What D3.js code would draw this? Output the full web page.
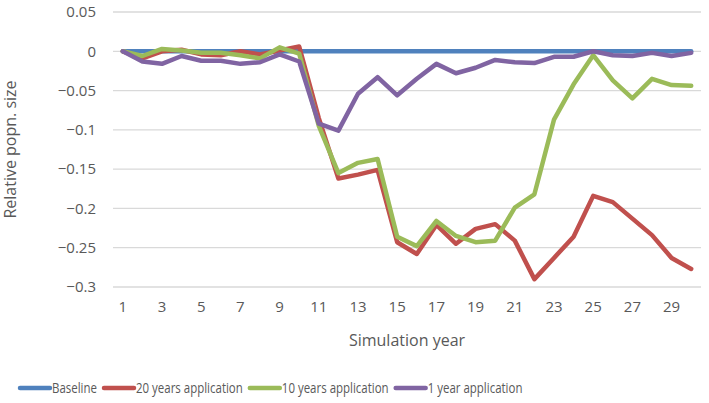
<!DOCTYPE html>
<html>
<head>
<meta charset="utf-8">
<script src="https://d3js.org/d3.v7.min.js"></script>
<style>
  body { margin: 0; background: #fff; }
  text { font-family: "Open Sans", sans-serif; fill: #595959; }
</style>
</head>
<body>
<div id="chart-area"></div>
<script>

var width = 709,
    height = 403;

var margin = {top: 12, right: 8, bottom: 116, left: 113};

// Data
var years = d3.range(1, 31);
var seriesNames = ["Baseline", "20 years application", "10 years application", "1 year application"];
var seriesColors = ["#4f81bd", "#c0504d", "#9bbb59", "#8064a2"];

var baseline = years.map(function() { return 0; });
var app20 = [0, -0.009, 0, 0.002, -0.004, -0.005, 0, -0.004, 0.001, 0.006,
             -0.085, -0.162, -0.157, -0.151, -0.243, -0.258, -0.221, -0.245, -0.226, -0.220,
             -0.241, -0.290, -0.263, -0.236, -0.184, -0.192, -0.213, -0.234, -0.263, -0.277];
var app10 = [0, -0.006, 0.003, 0.001, -0.002, -0.002, -0.005, -0.009, 0.005, -0.003,
             -0.095, -0.155, -0.142, -0.137, -0.236, -0.248, -0.216, -0.235, -0.243, -0.241,
             -0.199, -0.182, -0.087, -0.042, -0.005, -0.037, -0.060, -0.035, -0.043, -0.044];
var app1 = [0, -0.013, -0.016, -0.006, -0.012, -0.012, -0.016, -0.014, -0.004, -0.013,
            -0.092, -0.101, -0.054, -0.033, -0.056, -0.035, -0.016, -0.028, -0.021, -0.011,
            -0.014, -0.015, -0.007, -0.007, 0, -0.005, -0.006, -0.002, -0.006, -0.002];

var yTicks = [0.05, 0, -0.05, -0.1, -0.15, -0.2, -0.25, -0.3];
var xTickYears = years.filter(function(d) { return d % 2 == 1; });

var allSeries = [baseline, app20, app10, app1];

var svg = d3.select("#chart-area").append("svg")
    .attr("width", width)
    .attr("height", height);

var plotW = width - margin.left - margin.right,
    plotH = height - margin.top - margin.bottom;

var g = svg.append("g")
    .attr("transform", "translate(" + margin.left + "," + margin.top + ")");

var x = d3.scaleBand()
    .domain(years)
    .range([0, plotW]);

var y = d3.scaleLinear()
    .domain([-0.3, 0.05])
    .range([plotH, 0]);

// Gridlines
g.selectAll(".grid")
    .data(yTicks)
    .enter().append("line")
    .attr("class", "grid")
    .attr("x1", 0)
    .attr("x2", plotW)
    .attr("y1", function(d) { return y(d); })
    .attr("y2", function(d) { return y(d); })
    .attr("stroke", "#d9d9d9")
    .attr("stroke-width", 1.3);

// Y axis labels (unicode minus like the original)
var yAxis = d3.axisLeft(y)
    .tickValues(yTicks)
    .tickSize(0)
    .tickPadding(17)
    .tickFormat(function(d) { return d == 0 ? "0" : String(+d.toFixed(2)).replace("-", "\u2212"); });

g.append("g")
    .call(yAxis)
    .call(function(a) { a.select(".domain").remove(); })
    .selectAll("text")
    .style("font-size", "15px")
    .attr("fill", "#595959");

// X axis labels
var xAxis = d3.axisBottom(x)
    .tickValues(xTickYears)
    .tickSize(0)
    .tickPadding(14);

g.append("g")
    .attr("transform", "translate(0," + plotH + ")")
    .call(xAxis)
    .call(function(a) { a.select(".domain").remove(); })
    .selectAll("text")
    .style("font-size", "15px")
    .attr("fill", "#595959");

// Lines
var line = d3.line()
    .x(function(d, i) { return x(years[i]) + x.bandwidth() / 2; })
    .y(function(d) { return y(d); });

g.selectAll(".series")
    .data(allSeries)
    .enter().append("path")
    .attr("class", "series")
    .attr("d", line)
    .attr("fill", "none")
    .attr("stroke", function(d, i) { return seriesColors[i]; })
    .attr("stroke-width", 4.5)
    .attr("stroke-linejoin", "round")
    .attr("stroke-linecap", "round");

// Axis titles
svg.append("text")
    .attr("x", margin.left + plotW / 2)
    .attr("y", 346)
    .attr("text-anchor", "middle")
    .style("font-size", "16px")
    .text("Simulation year");

svg.append("text")
    .attr("transform", "translate(16," + (margin.top + plotH / 2) + ") rotate(-90)")
    .attr("text-anchor", "middle")
    .style("font-size", "16px")
    .text("Relative popn. size");

// Legend - text squeezed a bit, the original font is narrow
var squeeze = 0.82;
var legend = svg.append("g").attr("transform", "translate(20,388)");
var lx = 0;
seriesNames.forEach(function(name, i) {
    var item = legend.append("g").attr("transform", "translate(" + lx + ",0)");
    item.append("line")
        .attr("x1", 0).attr("x2", 30)
        .attr("y1", 0).attr("y2", 0)
        .attr("stroke", seriesColors[i])
        .attr("stroke-width", 4.5)
        .attr("stroke-linecap", "round");
    var t = item.append("text")
        .attr("transform", "translate(32,5) scale(" + squeeze + ",1)")
        .style("font-size", "14px")
        .text(name);
    lx += 32 + t.node().getComputedTextLength() * squeeze + 7;
});

</script>
</body>
</html>
